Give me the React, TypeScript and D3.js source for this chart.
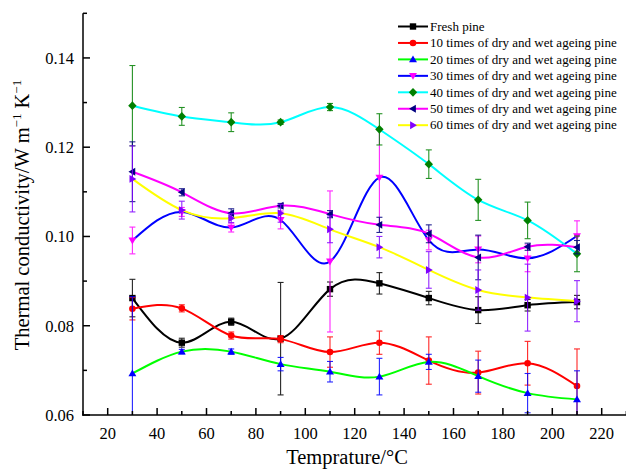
import React from "react";
import * as d3 from "d3";

// Temperature (°C) at which each sample was measured
const temps = [30, 50, 70, 90, 110, 130, 150, 170, 190, 210];

// Thermal conductivity (W m^-1 K^-1) and standard deviation per series
const freshPine = [0.0862, 0.0762, 0.0809, 0.0771, 0.0882, 0.0895, 0.0862, 0.0835, 0.0846, 0.0853];
const freshPineErr = [0.0042, 0.001, 0.0008, 0.0126, 0.0016, 0.0024, 0.0015, 0.003, 0.0013, 0.0015];

const aged10 = [0.0838, 0.0839, 0.0778, 0.077, 0.0741, 0.0762, 0.0722, 0.0695, 0.0716, 0.0665];
const aged10Err = [0.0025, 0.0008, 0.0008, 0.0008, 0.0034, 0.0026, 0.0053, 0.0048, 0.0049, 0.0083];

const aged20 = [0.0693, 0.0742, 0.0742, 0.0714, 0.0697, 0.0686, 0.0719, 0.0687, 0.0649, 0.0635];
const aged20Err = [0.0172, 0.0005, 0.0006, 0.0015, 0.0023, 0.0041, 0.0017, 0.0036, 0.0044, 0.0064];

const aged30 = [0.0991, 0.1055, 0.102, 0.1037, 0.0944, 0.1132, 0.0992, 0.0971, 0.0951, 0.1001];
const aged30Err = [0.003, 0.001, 0.001, 0.002, 0.0158, 0.0107, 0.0022, 0.003, 0.003, 0.0034];

const aged40 = [0.1293, 0.1269, 0.1256, 0.1256, 0.129, 0.124, 0.1162, 0.1082, 0.1036, 0.0961];
const aged40Err = [0.009, 0.002, 0.0021, 0.0005, 0.0008, 0.0035, 0.0032, 0.0046, 0.0041, 0.004];

const aged50 = [0.1145, 0.1099, 0.1052, 0.1069, 0.105, 0.1026, 0.1006, 0.0953, 0.0977, 0.0976];
const aged50Err = [0.0067, 0.0008, 0.001, 0.0005, 0.0008, 0.0017, 0.002, 0.005, 0.0008, 0.0015];

const aged60 = [0.1129, 0.1059, 0.1041, 0.1052, 0.1016, 0.0976, 0.0925, 0.088, 0.0863, 0.0855];
const aged60Err = [0.0074, 0.002, 0.001, 0.002, 0.003, 0.0024, 0.0041, 0.0045, 0.0075, 0.0046];

const seriesNames = [
  "Fresh pine",
  "10 times of dry and wet ageing pine",
  "20 times of dry and wet ageing pine",
  "30 times of dry and wet ageing pine",
  "40 times of dry and wet ageing pine",
  "50 times of dry and wet ageing pine",
  "60 times of dry and wet ageing pine",
];

const xTickValues = [20, 40, 60, 80, 100, 120, 140, 160, 180, 200, 220];
const yTickValues = [0.06, 0.08, 0.1, 0.12, 0.14];

type Shape = "square" | "circle" | "up" | "down" | "diamond" | "left" | "right";

const series = [
  { name: seriesNames[0], y: freshPine, err: freshPineErr, line: "#000000", mark: "#000000", shape: "square" as Shape },
  { name: seriesNames[1], y: aged10, err: aged10Err, line: "#FF0000", mark: "#FF0000", shape: "circle" as Shape },
  { name: seriesNames[2], y: aged20, err: aged20Err, line: "#00FF00", mark: "#0000FF", shape: "up" as Shape },
  { name: seriesNames[3], y: aged30, err: aged30Err, line: "#0000FF", mark: "#FF00FF", shape: "down" as Shape },
  { name: seriesNames[4], y: aged40, err: aged40Err, line: "#00FFFF", mark: "#008000", shape: "diamond" as Shape },
  { name: seriesNames[5], y: aged50, err: aged50Err, line: "#FF00FF", mark: "#000080", shape: "left" as Shape },
  { name: seriesNames[6], y: aged60, err: aged60Err, line: "#FFFF00", mark: "#8000FF", shape: "right" as Shape },
];

const W = 626;
const H = 469;
const FONT = "'Liberation Serif', 'Times New Roman', Times, serif";

const x = d3.scaleLinear().domain([10, 230]).range([83, 626.4]);
const y = d3.scaleLinear().domain([0.06, 0.15]).range([415, 13.3]);

function markerPath(shape: Shape, cx: number, cy: number): string {
  const s = 3.6;
  switch (shape) {
    case "square":
      return `M${cx - 3.2},${cy - 3.2}h6.4v6.4h-6.4Z`;
    case "circle":
      return `M${cx - 3.3},${cy}a3.3,3.3 0 1,0 6.6,0a3.3,3.3 0 1,0 -6.6,0Z`;
    case "up":
      return `M${cx},${cy - s * 1.1}L${cx + s * 1.1},${cy + s * 0.8}L${cx - s * 1.1},${cy + s * 0.8}Z`;
    case "down":
      return `M${cx},${cy + s * 1.1}L${cx + s * 1.1},${cy - s * 0.8}L${cx - s * 1.1},${cy - s * 0.8}Z`;
    case "diamond":
      return `M${cx},${cy - 4.4}L${cx + 4.2},${cy}L${cx},${cy + 4.4}L${cx - 4.2},${cy}Z`;
    case "left":
      return `M${cx - s * 1.1},${cy}L${cx + s * 0.8},${cy - s * 1.1}L${cx + s * 0.8},${cy + s * 1.1}Z`;
    case "right":
      return `M${cx + s * 1.1},${cy}L${cx - s * 0.8},${cy - s * 1.1}L${cx - s * 0.8},${cy + s * 1.1}Z`;
  }
}

const lineGen = d3
  .line<[number, number]>()
  .x((d) => x(d[0]))
  .y((d) => y(d[1]))
  .curve(d3.curveNatural);

export default function App() {
  const xMinor = d3.range(10, 231, 10).filter((v) => v % 20 !== 0);
  const yMinor = d3.range(0.07, 0.151, 0.02);
  const x0 = x.range()[0];
  const y0 = y.range()[0];
  const legendRow = (i: number) => 26.5 + i * 16.45;

  return (
    <svg
      width={W}
      height={H}
      viewBox={`0 0 ${W} ${H}`}
      style={{ position: "fixed", left: 0, top: 0, background: "#fff" }}
      fontFamily={FONT}
    >
      <defs>
        <clipPath id="plot">
          <rect x={x0} y={0} width={W - x0} height={y0 - 0} />
        </clipPath>
      </defs>
      <rect width={W} height={H} fill="#fff" />

      {/* curves, error bars and markers, drawn series by series */}
      <g clipPath="url(#plot)">
        {series.map((s) => {
          const pts: [number, number][] = temps.map((t, i) => [t, s.y[i]]);
          return (
            <g key={s.name}>
              <path d={lineGen(pts) || ""} fill="none" stroke={s.line} strokeWidth={2} />
              {temps.map((t, i) => {
                const cx = x(t);
                const top = y(s.y[i] + s.err[i]);
                const bot = y(s.y[i] - s.err[i]);
                return (
                  <g key={t} stroke={s.mark} strokeWidth={1.1} opacity={0.85}>
                    <line x1={cx} x2={cx} y1={top} y2={bot} />
                    <line x1={cx - 3} x2={cx + 3} y1={top} y2={top} />
                    <line x1={cx - 3} x2={cx + 3} y1={bot} y2={bot} />
                  </g>
                );
              })}
              {temps.map((t, i) => (
                <path key={"m" + t} d={markerPath(s.shape, x(t), y(s.y[i]))} fill={s.mark} />
              ))}
            </g>
          );
        })}
      </g>

      {/* axes */}
      <g stroke="#000" strokeWidth={1.5} fill="none">
        <line x1={x0} x2={x0} y1={y.range()[1]} y2={y0 + 0.75} />
        <line x1={x0 - 0.75} x2={W} y1={y0} y2={y0} />
        {xTickValues.map((v) => (
          <line key={"xt" + v} x1={x(v)} x2={x(v)} y1={y0} y2={y0 - 7} />
        ))}
        {xMinor.map((v) => (
          <line key={"xm" + v} x1={x(v)} x2={x(v)} y1={y0} y2={y0 - 4} />
        ))}
        {yTickValues.map((v) => (
          <line key={"yt" + v} x1={x0} x2={x0 + 7} y1={y(v)} y2={y(v)} />
        ))}
        {yMinor.map((v) => (
          <line key={"ym" + v} x1={x0} x2={x0 + 4} y1={y(v)} y2={y(v)} />
        ))}
      </g>

      <g fontSize={16.5} fill="#000">
        {xTickValues.map((v) => (
          <text key={"xl" + v} x={x(v)} y={439} textAnchor="middle">
            {v}
          </text>
        ))}
        {yTickValues.map((v) => (
          <text key={"yl" + v} x={74} y={y(v)} dy="0.35em" textAnchor="end">
            {d3.format(".2f")(v)}
          </text>
        ))}
      </g>

      <text x={347} y={464} fontSize={20.5} textAnchor="middle" fill="#000">
        Temprature/°C
      </text>
      <text
        transform={`translate(29,215) rotate(-90)`}
        fontSize={20.5}
        textAnchor="middle"
        fill="#000"
      >
        Thermal conductivity/W m
        <tspan fontSize={13} dy={-8}>−1</tspan>
        <tspan dy={8}> K</tspan>
        <tspan fontSize={13} dy={-8}>−1</tspan>
      </text>

      {/* legend */}
      <g>
        {series.map((s, i) => {
          const cy = legendRow(i);
          return (
            <g key={"lg" + s.name}>
              <line x1={398} x2={428} y1={cy} y2={cy} stroke={s.line} strokeWidth={2} />
              <path d={markerPath(s.shape, 413, cy)} fill={s.mark} />
              <text x={430} y={cy} dy="0.33em" fontSize={13} fill="#000">
                {s.name}
              </text>
            </g>
          );
        })}
      </g>
    </svg>
  );
}
